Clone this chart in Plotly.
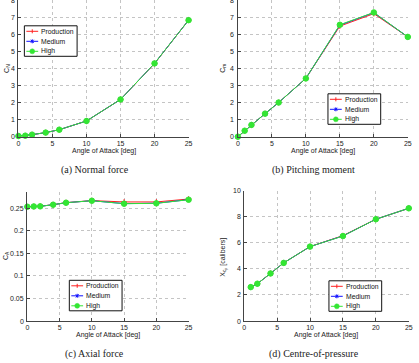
import plotly.graph_objects as go

W, H = 419, 363

# ---------------- data ----------------
aoa = [0, 1, 2, 4, 6, 10, 15, 20, 25]
aoa_cp = [1, 2, 4, 6, 10, 15, 20, 25]

cn_production = [0.04, 0.06, 0.12, 0.24, 0.41, 0.92, 2.18, 4.28, 6.82]
cn_medium = [0.04, 0.06, 0.12, 0.24, 0.41, 0.92, 2.18, 4.29, 6.82]
cn_high = [0.04, 0.06, 0.12, 0.24, 0.41, 0.92, 2.18, 4.29, 6.82]

cm_production = [0.0, 0.35, 0.69, 1.35, 2.0, 3.41, 6.47, 7.20, 5.84]
cm_medium = [0.0, 0.35, 0.69, 1.35, 2.0, 3.41, 6.53, 7.26, 5.84]
cm_high = [0.0, 0.35, 0.69, 1.35, 2.0, 3.41, 6.55, 7.27, 5.84]

ca_production = [0.2529, 0.2535, 0.2540, 0.2574, 0.2620, 0.2665, 0.2635, 0.2635, 0.2700]
ca_medium = [0.2529, 0.2535, 0.2538, 0.2574, 0.2618, 0.2662, 0.2598, 0.2606, 0.2686]
ca_high = [0.2529, 0.2535, 0.2537, 0.2574, 0.2618, 0.2662, 0.2596, 0.2604, 0.2684]

xcp_production = [2.60, 2.86, 3.65, 4.46, 5.71, 6.55, 7.81, 8.65]
xcp_medium = [2.60, 2.86, 3.65, 4.46, 5.71, 6.53, 7.81, 8.65]
xcp_high = [2.60, 2.86, 3.65, 4.46, 5.71, 6.52, 7.81, 8.65]

x_ticks = [0, 5, 10, 15, 20, 25]
x_ticklabels = ["0", "5", "10", "15", "20", "25"]
cn_ticks = [0, 1, 2, 3, 4, 5, 6, 7, 8]
cn_ticklabels = ["0", "1", "2", "3", "4", "5", "6", "7", "8"]
cm_ticks = [0, 1, 2, 3, 4, 5, 6, 7, 8]
cm_ticklabels = ["0", "1", "2", "3", "4", "5", "6", "7", "8"]
ca_ticks = [0, 0.05, 0.1, 0.15, 0.2, 0.25]
ca_ticklabels = ["0", "0.05", "0.1", "0.15", "0.2", "0.25"]
xcp_ticks = [0, 2, 4, 6, 8, 10]
xcp_ticklabels = ["0", "2", "4", "6", "8", "10"]

series_names = ["Production", "Medium", "High"]
captions = ["(a) Normal force", "(b) Pitching moment", "(c) Axial force", "(d) Centre-of-pressure"]
x_title = "Angle of Attack [deg]"
y_titles = ["C<sub>N</sub>", "C<sub>m</sub>", "C<sub>A</sub>", "X<sub>c<sub>p</sub></sub> [calibers]"]

# ---------------- styles ----------------
RED, BLUE, GREEN = "#ff2020", "#1010ff", "#33e633"
styles = [
    dict(color=RED, symbol="cross-thin-open", size=4),
    dict(color=BLUE, symbol="asterisk-open", size=4),
    dict(color=GREEN, symbol="circle", size=5.5),
]
FONT = "Liberation Sans, Arial, sans-serif"
SERIF = "Liberation Serif, Times New Roman, serif"
FS = 7.0
LFS = 6.8

def fx(p):
    return p / W

def fy(p):
    return 1 - p / H

panels = [
    dict(x=(16.7, 189.3), y=(136.7, 0.0), yr=[0, 8], tv=cn_ticks, tt=cn_ticklabels, xs=aoa,
         ys=[cn_production, cn_medium, cn_high]),
    dict(x=(239.3, 411.7), y=(136.7, 0.0), yr=[0, 8], tv=cm_ticks, tt=cm_ticklabels, xs=aoa,
         ys=[cm_production, cm_medium, cm_high]),
    dict(x=(25.7, 189.3), y=(321.0, 192.0), yr=[0, 0.2855], tv=ca_ticks, tt=ca_ticklabels, xs=aoa,
         ys=[ca_production, ca_medium, ca_high]),
    dict(x=(245.7, 412.7), y=(321.0, 190.7), yr=[0, 10], tv=xcp_ticks, tt=xcp_ticklabels, xs=aoa_cp,
         ys=[xcp_production, xcp_medium, xcp_high]),
]

fig = go.Figure()
layout = dict(width=W, height=H, margin=dict(l=0, r=0, t=0, b=0),
              paper_bgcolor="white", plot_bgcolor="white", showlegend=False,
              font=dict(family=FONT, size=FS, color="#222"))

axis_common = dict(showline=True, linecolor="#444", linewidth=1, ticks="inside",
                   ticklen=3, tickcolor="#444", showgrid=True, gridcolor="#c4c4c4",
                   griddash="dot", gridwidth=1, zeroline=False, mirror=False,
                   tickmode="array",
                   tickfont=dict(family=FONT, size=FS, color="#222"))

annotations = []
shapes = []

for i, p in enumerate(panels):
    n = "" if i == 0 else str(i + 1)
    layout["xaxis" + n] = dict(axis_common, domain=[fx(p["x"][0]), fx(p["x"][1])],
                               anchor="y" + n, range=[0, 25], tickvals=x_ticks, ticktext=x_ticklabels)
    layout["yaxis" + n] = dict(axis_common, domain=[fy(p["y"][0]), fy(p["y"][1])],
                               anchor="x" + n, range=p["yr"], tickvals=p["tv"], ticktext=p["tt"],
                               showticklabels=False)
    # y tick labels placed through the y axis scale
    for v, t in zip(p["tv"], p["tt"]):
        annotations.append(dict(text=t, x=0, y=v, xref="x" + n + " domain", yref="y" + n,
                                showarrow=False, xanchor="right", yanchor="middle", xshift=-1.5,
                                font=dict(family=FONT, size=FS, color="#222")))
    for s, name, st in zip(p["ys"], series_names, styles):
        fig.add_trace(go.Scatter(x=p["xs"], y=s, name=name, mode="lines+markers",
                                 line=dict(color=st["color"], width=1),
                                 marker=dict(color=st["color"], symbol=st["symbol"], size=st["size"],
                                             line=dict(color=st["color"], width=1)),
                                 cliponaxis=False, xaxis="x" + n, yaxis="y" + n))

fig.update_layout(**layout)

# axis titles
xt_pos = [(103, 150.5), (325.5, 150.5), (107.5, 335), (329, 335)]
yt_pos = [(5, 68), (224, 68), (4, 255), (224, 257)]
for i in range(4):
    annotations.append(dict(text=x_title, x=fx(xt_pos[i][0]), y=fy(xt_pos[i][1]), xref="paper",
                            yref="paper", showarrow=False, xanchor="center", yanchor="middle",
                            font=dict(family=FONT, size=FS, color="#222")))
    annotations.append(dict(text=y_titles[i], x=fx(yt_pos[i][0]), y=fy(yt_pos[i][1]), xref="paper",
                            yref="paper", showarrow=False, xanchor="center", yanchor="middle",
                            textangle=-90, font=dict(family=FONT, size=FS, color="#222")))

# captions
cap_pos = [(94, 169.5), (316, 169.5), (94, 353.5), (317, 353.5)]
for c, (cx, cy) in zip(captions, cap_pos):
    annotations.append(dict(text=c, x=fx(cx), y=fy(cy), xref="paper", yref="paper",
                            showarrow=False, xanchor="center", yanchor="middle",
                            font=dict(family=SERIF, size=10, color="#222")))

# legends (drawn manually, pixel placement)
legend_pos = [(22.7, 25.8), (330.7, 93.8), (68.3, 280.3), (331.7, 280.8)]
for (L, T) in legend_pos:
    shapes.append(dict(type="rect", xref="paper", yref="paper", x0=fx(L), x1=fx(L + 53.5),
                       y0=fy(T + 30.5), y1=fy(T), line=dict(color="#111", width=1),
                       fillcolor="white", layer="above"))
    for k, (name, st) in enumerate(zip(series_names, styles)):
        yy = T + 5.5 + 10 * k
        shapes.append(dict(type="line", xref="paper", yref="paper", x0=fx(L + 2), x1=fx(L + 14),
                           y0=fy(yy), y1=fy(yy), line=dict(color=st["color"], width=1), layer="above"))
        mx = L + 8
        if k == 0:
            shapes.append(dict(type="line", xref="paper", yref="paper", x0=fx(mx), x1=fx(mx),
                               y0=fy(yy - 2), y1=fy(yy + 2), line=dict(color=RED, width=1), layer="above"))
        elif k == 1:
            shapes.append(dict(type="line", xref="paper", yref="paper", x0=fx(mx), x1=fx(mx),
                               y0=fy(yy - 2), y1=fy(yy + 2), line=dict(color=BLUE, width=1), layer="above"))
            shapes.append(dict(type="line", xref="paper", yref="paper", x0=fx(mx - 1.5), x1=fx(mx + 1.5),
                               y0=fy(yy - 1.5), y1=fy(yy + 1.5), line=dict(color=BLUE, width=1), layer="above"))
            shapes.append(dict(type="line", xref="paper", yref="paper", x0=fx(mx - 1.5), x1=fx(mx + 1.5),
                               y0=fy(yy + 1.5), y1=fy(yy - 1.5), line=dict(color=BLUE, width=1), layer="above"))
        else:
            shapes.append(dict(type="circle", xref="paper", yref="paper", x0=fx(mx - 2.5), x1=fx(mx + 2.5),
                               y0=fy(yy + 2.5), y1=fy(yy - 2.5), line=dict(color=GREEN, width=0.5),
                               fillcolor=GREEN, layer="above"))
        annotations.append(dict(text=name, x=fx(L + 15), y=fy(yy), xref="paper", yref="paper",
                                showarrow=False, xanchor="left", yanchor="middle",
                                font=dict(family=FONT, size=LFS, color="#111")))

fig.update_layout(annotations=annotations, shapes=shapes)
fig.write_html("out.html")
